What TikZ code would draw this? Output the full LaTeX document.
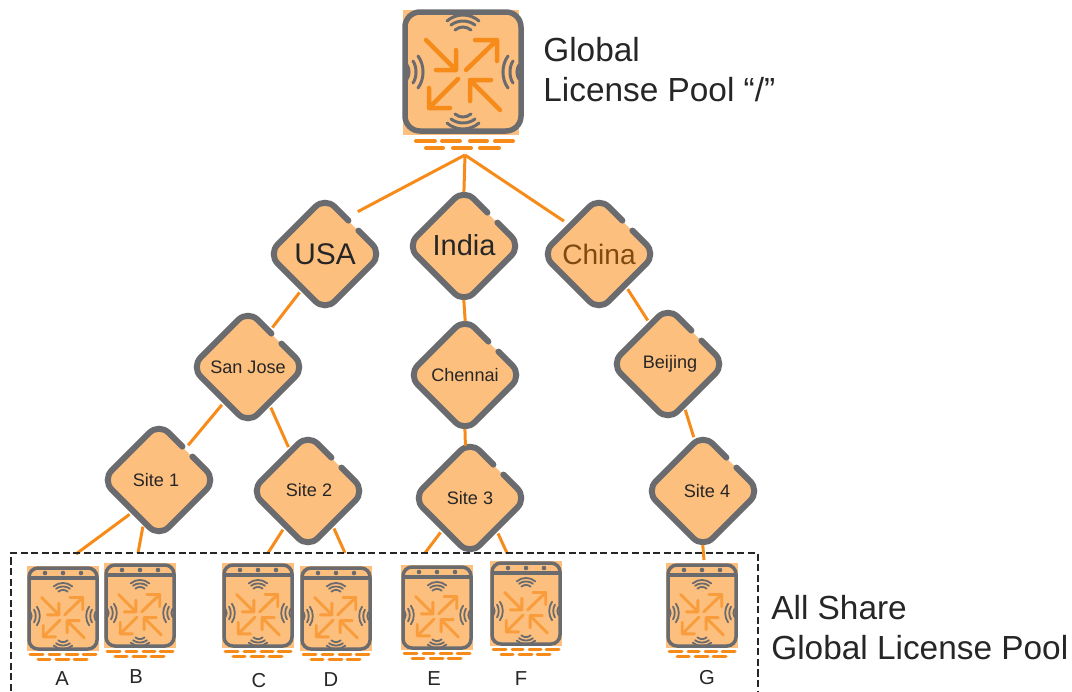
\documentclass[tikz,border=0pt]{standalone}
\usepackage{fontspec}
\setmainfont{Liberation Sans}
\usetikzlibrary{shapes.geometric,calc}

\definecolor{peach}{HTML}{FDBF7E}
\definecolor{rimgrey}{HTML}{6A6B6E}
\definecolor{linkorange}{HTML}{F78B1A}
\definecolor{inktext}{HTML}{262626}
\definecolor{chinabrown}{HTML}{7F4A10}

% text offset inside a diamond, in pixels of the picture
\newcommand{\nudged}[3]{\raisebox{#2pt}{\kern #1pt #3}}

\tikzset{
	region/.style={shape=diamond, fill=peach, rounded corners=0.27cm, inner sep=0pt, minimum width=2.26cm, minimum height=2.26cm, text=inktext, font=\fontsize{10.3}{12}\selectfont},
	rim/.style={draw=rimgrey, line width=0.12cm, rounded corners=0.27cm, line cap=round},
	link/.style={draw=linkorange, line width=0.06cm, shorten <=0.1cm, shorten >=0.1cm},
	wave/.style={draw=rimgrey, line width=0.06cm, line cap=round},
	spoke/.style={draw=linkorange, line width=0.09cm, line cap=round, line join=round},
	base/.style={draw=linkorange, line width=0.08cm, line cap=round},
	caption/.style={align=left, anchor=west, inner sep=0pt, text=inktext, font=\fontsize{19}{22.76}\selectfont},
	tag/.style={inner sep=0pt, text=inktext, font=\fontsize{11.5}{13}\selectfont},
	pics/apcore/.style={code={
		% waves on the four walls
		\foreach \s in {1,-1} {
			\draw [wave] (-16,\s*-51) .. controls (-7,\s*-59) and (7,\s*-59) .. (16,\s*-51);
			\draw [wave] (-12,\s*-47) .. controls (-5,\s*-52.3) and (5,\s*-52.3) .. (12,\s*-47);
			\draw [wave] (-8,\s*-42) .. controls (-3,\s*-46) and (3,\s*-46) .. (8,\s*-42);
			\draw [wave] (\s*-45,-16) .. controls (\s*-38.3,-7) and (\s*-38.3,7) .. (\s*-45,16);
			\draw [wave] (\s*-50,-11) .. controls (\s*-46,-5) and (\s*-46,5) .. (\s*-50,11);
			\draw [wave] (\s*-56,-7) .. controls (\s*-53.3,-3) and (\s*-53.3,3) .. (\s*-56,7);
		}
		\draw [spoke] (-37,-32) -- (-7,-2) (-27,-2) -- (-7,-2) -- (-7,-22);
		\draw [spoke] (3,-2) -- (34,-32) (12,-32) -- (34,-32) -- (34,-11);
		\draw [spoke] (-5,7) -- (-34,36) (-34,16) -- (-34,36) -- (-13,36);
		\draw [spoke] (37,38) -- (7,8) (7,29) -- (7,8) (7,8) -- (28,8);
	}},
	pics/apunit/.style={code={
		\fill [peach] (-36,-50) rectangle (36,35);
		\draw [rimgrey, line width=0.07cm, rounded corners=0.18cm] (-34,-48) rectangle (34,33);
		\draw [rimgrey, line width=0.07cm] (-34,-38) -- (34,-38);
		\foreach \x in {-18,0,18}
			\fill [rimgrey] (\x,-43) circle (2.3);
		\pic [scale=0.58, wave/.append style={line width=0.036cm}, spoke/.append style={draw=linkorange!85!white, line width=0.058cm}] {apcore};
		\foreach \a/\b in {-33/-20,-14/-3,3/15,20/33}
			\draw [base, line width=0.06cm] (\a,38) -- (\b,38);
		\foreach \a/\b in {-25/-13,-7/6,11/24}
			\draw [base, line width=0.06cm] (\a,43) -- (\b,43);
	}}
}

\begin{document}
\begin{tikzpicture}[x=0.02cm, y=-0.02cm]
	\useasboundingbox (0,0) rectangle (1072,691);

	% top unit
	\fill [peach] (403,10) rectangle (519,135);
	\draw [rimgrey, line width=0.11cm, rounded corners=0.3cm] (405,12) rectangle (521,131);
	\begin{scope}[shift={(463,72)}]
		\pic {apcore};
		\foreach \a/\b in {-47/-28,-21/-3,7/24,32/50}
			\draw [base] (\a,69) -- (\b,69);
		\foreach \a/\b in {-37/-20,-10/8,17/36}
			\draw [base] (\a,76) -- (\b,76);
	\end{scope}
	\node (globalpool) [caption] at (543,70) {Global\\License Pool “/”};

	\node (usa) [region, font=\fontsize{17}{20}\selectfont] at (325,254) {USA};
	\node (india) [region, font=\fontsize{16.5}{20}\selectfont] at (464,246) {\nudged{0}{1.5}{India}};
	\node (china) [region, text=chinabrown, font=\fontsize{16}{20}\selectfont] at (599,254) {China};
	\node (sanjose) [region] at (248,367) {San Jose};
	\node (chennai) [region] at (465,375) {Chennai};
	\node (beijing) [region] at (668,364) {\nudged{2.3}{-0.6}{Beijing}};
	\node (site1) [region] at (159,480) {\nudged{-3.4}{-1.1}{Site 1}};
	\node (site2) [region] at (308,491) {\nudged{1.1}{1.1}{Site 2}};
	\node (site3) [region] at (470,498) {Site 3};
	\node (site4) [region] at (703,491) {\nudged{4.5}{0}{Site 4}};

	\foreach \n in {usa,india,china,sanjose,chennai,beijing,site1,site2,site3,site4}
		\draw [rim] ($(\n.north east)+(5,5)$) -- (\n.east) -- (\n.south) -- (\n.west) -- (\n.north) -- ($(\n.north east)+(-5,-5)$);

	\coordinate (roottip) at (465,155);
	\coordinate (tipA) at (76,554);
	\coordinate (tipB) at (138,553);
	\coordinate (tipC) at (268,553);
	\coordinate (tipD) at (345,553);
	\coordinate (tipE) at (425,553);
	\coordinate (tipF) at (507,553);
	\coordinate (tipG) at (704,560);

	\draw [link, shorten <=0cm, shorten >=0.27cm] (roottip) -- (usa.60);
	\draw [link, shorten <=0cm, shorten >=-0.06cm] (roottip) -- (india.north);
	\draw [link, shorten <=0cm, shorten >=0.16cm] (roottip) -- (china.135);
	\draw [link] (usa.237) -- (sanjose.59);
	\draw [link, shorten <=-0.06cm, shorten >=-0.06cm] (india.south) -- (chennai.north);
	\draw [link] (china.310) -- (beijing.114);
	\draw [link] (sanjose.236) -- (site1.50);
	\draw [link] (sanjose.300) -- (site2.114);
	\draw [link, shorten <=-0.06cm, shorten >=0cm] (chennai.south) -- (site3.95);
	\draw [link] (beijing.291) -- (site4.99);
	\draw [link, shorten >=0cm] (site1.231) -- (tipA);
	\draw [link, shorten >=0cm] (site1.250) -- (tipB);
	\draw [link, shorten >=0cm] (site2.237) -- (tipC);
	\draw [link, shorten >=0cm] (site2.306) -- (tipD);
	\draw [link, shorten >=0cm] (site3.229) -- (tipE);
	\draw [link, shorten >=0cm] (site3.310) -- (tipF);
	\draw [link, shorten <=-0.06cm, shorten >=0cm] (site4.south) -- (tipG);

	% dashed group, open at the foot
	\draw [dash pattern=on 4pt off 2pt, line width=0.022cm, inktext] (11,691) -- (11,553) -- (758,553) -- (758,691);

	\pic at (63,616) {apunit};
	\pic at (140,613) {apunit};
	\pic at (258,613) {apunit};
	\pic at (336,616) {apunit};
	\pic at (437,615) {apunit};
	\pic at (526,611) {apunit};
	\pic at (702,613) {apunit};

	\node (labA) [tag] at (62,679) {A};
	\node (labB) [tag] at (136,677) {B};
	\node (labC) [tag] at (259,681) {C};
	\node (labD) [tag] at (331,680) {D};
	\node (labE) [tag] at (434,679) {E};
	\node (labF) [tag] at (521,679) {F};
	\node (labG) [tag] at (707,678) {G};

	\node (sharepool) [caption] at (771,628) {All Share\\Global License Pool};
\end{tikzpicture}
\end{document}
